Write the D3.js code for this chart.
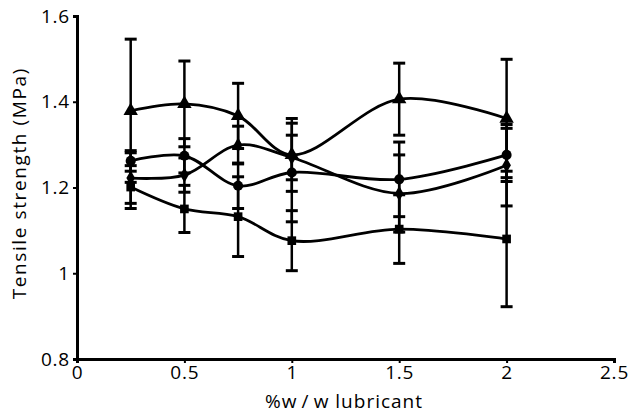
<!DOCTYPE html>
<html>
<head>
<meta charset="utf-8">
<script src="https://cdn.jsdelivr.net/npm/d3@7/dist/d3.min.js"></script>
<style>
  body { margin: 0; background: #fff; }
  svg text { font-family: "Open Sans", "Noto Sans", sans-serif; fill: #000; }
</style>
</head>
<body>
<svg id="chart" width="628" height="414"></svg>
<script>
// lubricant concentration (%w/w)
const lubricant = [0.25, 0.5, 0.75, 1, 1.5, 2];

// tensile strength (MPa) and error bar half-widths, one pair per series
const triangleValues = [1.379, 1.395, 1.367, 1.276, 1.406, 1.361];
const triangleErrors = [0.167, 0.100, 0.076, 0.085, 0.084, 0.138];
const circleValues   = [1.262, 1.274, 1.204, 1.235, 1.219, 1.276];
const circleErrors   = [0.024, 0.040, 0.053, 0.115, 0.087, 0.062];
const diamondValues  = [1.222, 1.229, 1.299, 1.270, 1.186, 1.252];
const diamondErrors  = [0.059, 0.040, 0.044, 0.052, 0.090, 0.095];
const squareValues   = [1.201, 1.150, 1.132, 1.076, 1.103, 1.080];
const squareErrors   = [0.050, 0.055, 0.093, 0.070, 0.080, 0.158];

const xTicks = [0, 0.5, 1, 1.5, 2, 2.5];
const yTicks = [0.8, 1, 1.2, 1.4, 1.6];

const series = [
  {symbol: d3.symbolTriangle, size: 90, values: triangleValues, errors: triangleErrors},
  {symbol: d3.symbolCircle,   size: 80, values: circleValues,   errors: circleErrors},
  {symbol: d3.symbolDiamond,  size: 65, values: diamondValues,  errors: diamondErrors},
  {symbol: d3.symbolSquare,   size: 75, values: squareValues,   errors: squareErrors}
];

const svg = d3.select("#chart");

// plot area
const x = d3.scaleLinear().domain([0, 2.5]).range([77, 614]);
const y = d3.scaleLinear().domain([0.8, 1.6]).range([359, 16]);

const fontSize = 19;

// axes
const xAxis = svg.append("g")
  .attr("transform", `translate(0,${y(0.8)})`)
  .call(d3.axisBottom(x).tickValues(xTicks).tickFormat(d => d).tickSizeOuter(0).tickSize(4).tickPadding(3));
const yAxis = svg.append("g")
  .attr("transform", `translate(${x(0)},0)`)
  .call(d3.axisLeft(y).tickValues(yTicks).tickFormat(d => d).tickSizeOuter(0).tickSize(4).tickPadding(3));

[xAxis, yAxis].forEach(g => {
  g.select(".domain").attr("stroke", "#000").attr("stroke-width", 3);
  g.selectAll(".tick line").attr("stroke", "#000").attr("stroke-width", 2);
  g.selectAll(".tick text")
    .attr("font-size", fontSize)
    .attr("letter-spacing", 0.8)
    .attr("font-family", "Open Sans, Noto Sans, sans-serif");
});

// axis titles
svg.append("text")
  .attr("x", 344).attr("y", 408)
  .attr("text-anchor", "middle")
  .attr("font-size", fontSize)
  .attr("letter-spacing", 1)
  .text("%w\u2009/\u2009w lubricant");

svg.append("text")
  .attr("transform", `translate(26,${y(1.21)}) rotate(-90)`)
  .attr("text-anchor", "middle")
  .attr("font-size", fontSize)
  .attr("letter-spacing", 1.6)
  .text("Tensile strength (MPa)");

const line = d3.line()
  .x((d, i) => x(lubricant[i]))
  .y(d => y(d))
  .curve(d3.curveCatmullRom.alpha(0.5));

const capHalf = 6;

series.forEach(s => {
  const g = svg.append("g");

  // error bars
  const bars = g.selectAll("g.err")
    .data(s.values.map((v, i) => ({x: lubricant[i], v: v, e: s.errors[i]})))
    .join("g").attr("class", "err")
    .attr("stroke", "#000");
  bars.append("line")
    .attr("x1", d => x(d.x)).attr("x2", d => x(d.x))
    .attr("y1", d => y(d.v - d.e)).attr("y2", d => y(d.v + d.e))
    .attr("stroke-width", 2.5);
  bars.append("line")
    .attr("x1", d => x(d.x) - capHalf).attr("x2", d => x(d.x) + capHalf)
    .attr("y1", d => y(d.v + d.e)).attr("y2", d => y(d.v + d.e))
    .attr("stroke-width", 3);
  bars.append("line")
    .attr("x1", d => x(d.x) - capHalf).attr("x2", d => x(d.x) + capHalf)
    .attr("y1", d => y(d.v - d.e)).attr("y2", d => y(d.v - d.e))
    .attr("stroke-width", 3);

  // smoothed line
  g.append("path")
    .attr("d", line(s.values))
    .attr("fill", "none")
    .attr("stroke", "#000")
    .attr("stroke-width", 2.8);

  // markers
  g.selectAll("path.marker")
    .data(s.values)
    .join("path").attr("class", "marker")
    .attr("transform", (d, i) => `translate(${x(lubricant[i])},${y(d)})`)
    .attr("d", d3.symbol(s.symbol, s.size))
    .attr("fill", "#000");
});
</script>
</body>
</html>
